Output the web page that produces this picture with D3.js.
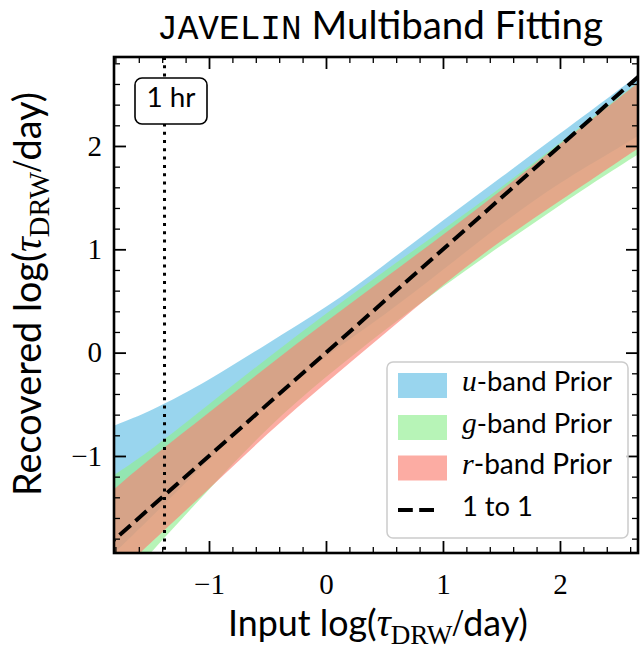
<!DOCTYPE html>
<html>
<head>
<meta charset="utf-8">
<script src="https://cdn.jsdelivr.net/npm/d3@7"></script>
<style>
  html, body { margin: 0; padding: 0; background: #fff; }
  svg { display: block; }
</style>
</head>
<body>
<div id="chart"></div>
<script>
// ---------------- data ----------------
const xGrid = [-1.82, -1.5, -1.0, -0.5, 0.0, 0.5, 1.0, 1.5, 2.0, 2.5, 2.7];
const uHigh = [-0.71, -0.57, -0.27, 0.09, 0.43, 0.85, 1.28, 1.70, 2.12, 2.54, 2.71];
const uLow  = [-1.95, -1.60, -1.03, -0.50, -0.02, 0.36, 0.80, 1.25, 1.65, 1.98, 2.12];
const gHigh = [-1.19, -0.95, -0.50, -0.05, 0.38, 0.79, 1.19, 1.60, 2.03, 2.47, 2.64];
const gLow  = [-2.33, -1.94, -1.32, -0.72, -0.23, 0.22, 0.64, 1.04, 1.43, 1.80, 1.94];
const rHigh = [-1.33, -1.02, -0.58, -0.13, 0.30, 0.72, 1.14, 1.57, 2.02, 2.46, 2.64];
const rLow  = [-2.19, -1.84, -1.32, -0.78, -0.29, 0.18, 0.66, 1.09, 1.47, 1.85, 2.00];
const oneToOne = [-1.9, 2.8];
const oneHour = Math.log10(1 / 24);
const xMajor = [-1, 0, 1, 2];
const yMajor = [-1, 0, 1, 2];
const xDomain = [-1.812, 2.667];
const yDomain = [-1.939, 2.861];
const bandLabels = ["u", "g", "r"];

// ---------------- layout ----------------
const W = 641, H = 649;
const L = 114, R = 638, T = 57, B = 553;
const SANS = "Lato, 'Open Sans', sans-serif";
const SERIF = "'Liberation Serif', 'DejaVu Serif', serif";
const MONO = "'Liberation Mono', 'DejaVu Sans Mono', monospace";

const svg = d3.select("#chart").append("svg").attr("width", W).attr("height", H);

const x = d3.scaleLinear().domain(xDomain).range([L, R]);
const y = d3.scaleLinear().domain(yDomain).range([B, T]);

svg.append("defs").append("clipPath").attr("id", "clip")
  .append("rect").attr("x", L).attr("y", T).attr("width", R - L).attr("height", B - T);

const plot = svg.append("g").attr("clip-path", "url(#clip)");

const bands = [
  {name: "u", lo: uLow, hi: uHigh, color: "#87CEEB", op: 0.85},
  {name: "g", lo: gLow, hi: gHigh, color: "#90EE90", op: 0.65},
  {name: "r", lo: rLow, hi: rHigh, color: "#FA8072", op: 0.65}
];

const area = d3.area()
  .x(d => x(d.x)).y0(d => y(d.lo)).y1(d => y(d.hi))
  .curve(d3.curveBasis);

bands.forEach(b => {
  const pts = xGrid.map((xv, i) => ({x: xv, lo: b.lo[i], hi: b.hi[i]}));
  plot.append("path").datum(pts).attr("d", area)
    .attr("fill", b.color).attr("fill-opacity", b.op).attr("stroke", "none");
});

// 1 to 1 line
plot.append("line")
  .attr("x1", x(oneToOne[0])).attr("y1", y(oneToOne[0]))
  .attr("x2", x(oneToOne[1])).attr("y2", y(oneToOne[1]))
  .attr("stroke", "#000").attr("stroke-width", 4)
  .attr("stroke-dasharray", "14.8 6.4");

// dotted 1 hr line
plot.append("line")
  .attr("x1", x(oneHour)).attr("x2", x(oneHour))
  .attr("y1", T).attr("y2", B)
  .attr("stroke", "#000").attr("stroke-width", 3)
  .attr("stroke-dasharray", "3 5.3");

// ---------------- axes / ticks ----------------
function range(a, b, s) { const out = []; for (let v = a; v <= b + 1e-9; v += s) out.push(+v.toFixed(4)); return out; }
const xMinor = range(-1.8, 2.6, 0.2).filter(v => !xMajor.some(m => Math.abs(m - v) < 1e-6));
const yMinor = range(-1.8, 2.8, 0.2).filter(v => !yMajor.some(m => Math.abs(m - v) < 1e-6));
const fmt = d => d < 0 ? "\u2212" + Math.abs(d) : String(d);

function styleAxis(g, w) {
  g.select(".domain").remove();
  g.selectAll(".tick line").attr("stroke", "#000").attr("stroke-width", w);
}

// bottom
svg.append("g").attr("transform", `translate(0,${B})`)
  .call(d3.axisBottom(x).tickValues(xMajor).tickSize(-12).tickPadding(20).tickFormat(fmt))
  .call(g => styleAxis(g, 1.8))
  .call(g => g.selectAll("text").attr("font-family", SERIF).attr("font-size", 29).attr("fill", "#000"));
svg.append("g").attr("transform", `translate(0,${B})`)
  .call(d3.axisBottom(x).tickValues(xMinor).tickSize(-6).tickFormat(""))
  .call(g => styleAxis(g, 1.3));
// top
svg.append("g").attr("transform", `translate(0,${T})`)
  .call(d3.axisTop(x).tickValues(xMajor).tickSize(-12).tickFormat(""))
  .call(g => styleAxis(g, 1.8));
svg.append("g").attr("transform", `translate(0,${T})`)
  .call(d3.axisTop(x).tickValues(xMinor).tickSize(-6).tickFormat(""))
  .call(g => styleAxis(g, 1.3));
// left
svg.append("g").attr("transform", `translate(${L},0)`)
  .call(d3.axisLeft(y).tickValues(yMajor).tickSize(-12).tickPadding(12).tickFormat(fmt))
  .call(g => styleAxis(g, 1.8))
  .call(g => g.selectAll("text").attr("font-family", SERIF).attr("font-size", 29).attr("fill", "#000"));
svg.append("g").attr("transform", `translate(${L},0)`)
  .call(d3.axisLeft(y).tickValues(yMinor).tickSize(-6).tickFormat(""))
  .call(g => styleAxis(g, 1.3));
// right
svg.append("g").attr("transform", `translate(${R},0)`)
  .call(d3.axisRight(y).tickValues(yMajor).tickSize(-12).tickFormat(""))
  .call(g => styleAxis(g, 1.8));
svg.append("g").attr("transform", `translate(${R},0)`)
  .call(d3.axisRight(y).tickValues(yMinor).tickSize(-6).tickFormat(""))
  .call(g => styleAxis(g, 1.3));

// frame
svg.append("rect").attr("x", L).attr("y", T).attr("width", R - L).attr("height", B - T)
  .attr("fill", "none").attr("stroke", "#000").attr("stroke-width", 2.6);

// helper: scale a text element's font sizes so its width matches a target
function fitWidth(textSel, target) {
  const node = textSel.node();
  const w = node.getComputedTextLength();
  if (!w) return;
  const k = target / w;
  textSel.selectAll("tspan").each(function () {
    const t = d3.select(this);
    const fs = parseFloat(t.attr("font-size"));
    t.attr("font-size", fs * k);
    const dy = t.attr("dy");
    if (dy !== null && !isNaN(parseFloat(dy))) t.attr("dy", parseFloat(dy) * k);
  });
}

// ---------------- 1 hr label ----------------
const hrG = svg.append("g");
hrG.append("rect").attr("x", 135).attr("y", 78).attr("width", 72).attr("height", 46)
  .attr("rx", 7).attr("ry", 7).attr("fill", "#fff").attr("stroke", "#000").attr("stroke-width", 1.6);
const hrT = hrG.append("text").attr("x", 171).attr("y", 101).attr("dy", "0.36em")
  .attr("text-anchor", "middle").attr("fill", "#000");
hrT.append("tspan").attr("font-family", SANS).attr("font-size", 28).text("1 hr");
fitWidth(hrT, 49);

// ---------------- legend ----------------
const lg = svg.append("g");
lg.append("rect").attr("x", 387).attr("y", 362).attr("width", 241).attr("height", 176)
  .attr("rx", 6).attr("ry", 6).attr("fill", "#fff").attr("fill-opacity", 0.8)
  .attr("stroke", "#cccccc").attr("stroke-width", 1.5);
const rowY = [385.5, 427.5, 468, 510];
bands.forEach((b, i) => {
  lg.append("rect").attr("x", 398).attr("y", rowY[i] - 12.5).attr("width", 49).attr("height", 25)
    .attr("fill", b.color).attr("fill-opacity", b.op);
  const t = lg.append("text").attr("x", 462).attr("y", rowY[i]).attr("dy", "0.36em")
    .attr("fill", "#000");
  t.append("tspan").attr("font-family", SERIF).attr("font-style", "italic").attr("font-size", 29).text(bandLabels[i]);
  t.append("tspan").attr("font-family", SANS).attr("font-size", 27).text("-band Prior");
  fitWidth(t, 150);
});
lg.append("line").attr("x1", 398).attr("x2", 440).attr("y1", rowY[3]).attr("y2", rowY[3])
  .attr("stroke", "#000").attr("stroke-width", 4).attr("stroke-dasharray", "14.8 6.4");
const oneT = lg.append("text").attr("x", 462).attr("y", rowY[3]).attr("dy", "0.36em").attr("fill", "#000");
oneT.append("tspan").attr("font-family", SANS).attr("font-size", 27).text("1 to 1");
fitWidth(oneT, 71);

// ---------------- axis labels ----------------
function richLabel(sel, prefix) {
  sel.append("tspan").attr("font-family", SANS).attr("font-size", 33).text(prefix + " log(");
  sel.append("tspan").attr("font-family", SERIF).attr("font-style", "italic").attr("font-size", 36).text("\u03C4");
  sel.append("tspan").attr("font-family", SERIF).attr("font-size", 25).attr("dy", 7).text("DRW");
  sel.append("tspan").attr("font-family", SERIF).attr("font-size", 36).attr("dy", -7).text("/");
  sel.append("tspan").attr("font-family", SANS).attr("font-size", 33).text("day)");
}
const xl = svg.append("text").attr("x", 378).attr("y", 636)
  .attr("text-anchor", "middle").attr("fill", "#000");
richLabel(xl, "Input");
fitWidth(xl, 300);

const yl = svg.append("text").attr("transform", `translate(41,294) rotate(-90)`)
  .attr("text-anchor", "middle").attr("fill", "#000");
richLabel(yl, "Recovered");
fitWidth(yl, 404);

// ---------------- title ----------------
const title = svg.append("text").attr("x", 380).attr("y", 39)
  .attr("text-anchor", "middle").attr("fill", "#000");
title.append("tspan").attr("font-family", MONO).attr("font-size", 34).text("JAVELIN");
title.append("tspan").attr("font-family", SANS).attr("font-size", 38).text(" Multiband Fitting");
fitWidth(title, 446);
</script>
</body>
</html>
